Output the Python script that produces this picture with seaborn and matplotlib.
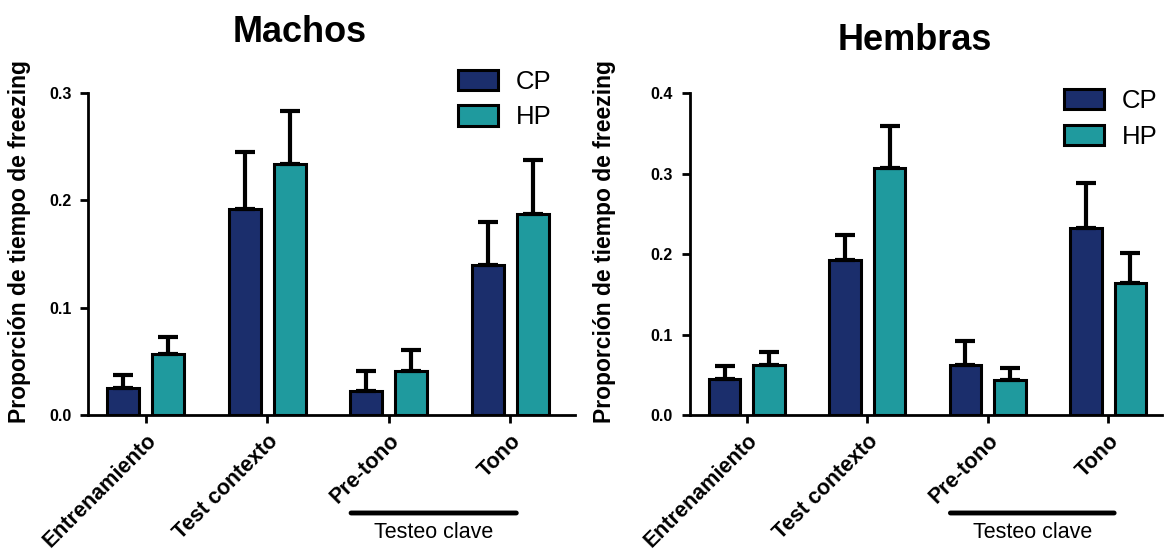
import matplotlib
matplotlib.use("Agg")
import matplotlib.pyplot as plt
import seaborn as sns
import pandas as pd
import numpy as np

# ---- data ----
categories = ["Entrenamiento", "Test contexto", "Pre-tono", "Tono"]
groups = ["CP", "HP"]
machos_cp = [0.025, 0.192, 0.022, 0.140]
machos_cp_err = [0.012, 0.053, 0.019, 0.040]
machos_hp = [0.057, 0.234, 0.041, 0.187]
machos_hp_err = [0.016, 0.049, 0.020, 0.051]
hembras_cp = [0.045, 0.193, 0.062, 0.232]
hembras_cp_err = [0.016, 0.031, 0.030, 0.056]
hembras_hp = [0.062, 0.307, 0.043, 0.164]
hembras_hp_err = [0.017, 0.052, 0.016, 0.038]
titles = ["Machos", "Hembras"]
ylabel = "Proporción de tiempo de freezing"
bracket_label = "Testeo clave"

colors = {"CP": "#1b2e6c", "HP": "#1f9a9e"}

sns.set_style("ticks")
plt.rcParams["font.family"] = ["Liberation Sans", "DejaVu Sans"]
for k in ["text.color", "axes.labelcolor", "xtick.color", "ytick.color",
          "axes.edgecolor"]:
    plt.rcParams[k] = "black"

fig = plt.figure(figsize=(11.67, 5.52), dpi=100)
ax1 = fig.add_axes([0.0754, 0.248, 0.417, 0.5833])
ax2 = fig.add_axes([0.591, 0.248, 0.405, 0.5833])


def make_df(cp, hp):
    return pd.DataFrame({
        "cat": categories * 2,
        "grp": ["CP"] * 4 + ["HP"] * 4,
        "val": list(cp) + list(hp),
    })


def draw(ax, cp, cperr, hp, hperr, ymax, yticks, title, title_x, title_y,
         leg_anchor, xmax, ylab_x):
    df = make_df(cp, hp)
    sns.barplot(data=df, x="cat", y="val", hue="grp", order=categories,
                hue_order=groups, palette=colors, width=0.74, gap=0.29,
                edgecolor="black", linewidth=2.2, errorbar=None, ax=ax,
                saturation=1)
    errs = {"CP": cperr, "HP": hperr}
    vals = {"CP": cp, "HP": hp}
    for cont, g in zip(ax.containers, groups):
        xs = [p.get_x() + p.get_width() / 2 for p in cont.patches]
        ax.errorbar(xs, vals[g], yerr=[np.zeros(4), errs[g]], fmt="none",
                    ecolor="black", elinewidth=3, capsize=7, capthick=3,
                    zorder=1)
    ax.set_ylim(0, ymax)
    ax.set_yticks(yticks)
    ax.set_yticklabels([f"{t:.1f}" for t in yticks], fontsize=11.5,
                       fontweight="bold")
    ax.set_xlim(-0.475, xmax)
    ax.set_xlabel("")
    ax.set_ylabel(ylabel, fontsize=16.5, fontweight="bold")
    ax.yaxis.set_label_coords(ylab_x, 0.54)
    ax.set_xticks(range(len(categories)))
    ax.set_xticklabels(categories, rotation=45, ha="right",
                       rotation_mode="anchor", fontsize=15.5,
                       fontweight="bold")
    for s in ["top", "right"]:
        ax.spines[s].set_visible(False)
    for s in ["left", "bottom"]:
        ax.spines[s].set_linewidth(2)
    ax.tick_params(axis="both", width=2, length=6, direction="out", pad=6)
    ax.tick_params(axis="x", pad=5)
    ax.legend(loc="upper left", bbox_to_anchor=leg_anchor, frameon=False,
              fontsize=18.5, handlelength=1.55, handleheight=0.85,
              labelspacing=0.45, handletextpad=0.7, borderaxespad=0)
    fig.text(title_x, title_y, title, fontsize=26, fontweight="bold",
             ha="center", va="center")
    # bracket line and label
    ax.annotate("", xy=(1.69, -0.304), xytext=(3.05, -0.304),
                xycoords=("data", "axes fraction"),
                textcoords=("data", "axes fraction"),
                arrowprops=dict(arrowstyle="-", lw=3.5, color="black",
                                shrinkA=0, shrinkB=0))
    ax.text(2.37, -0.366, bracket_label, fontsize=15.5,
            transform=ax.get_xaxis_transform(), ha="center", va="center")


draw(ax1, machos_cp, machos_cp_err, machos_hp, machos_hp_err, 0.3,
     [0.0, 0.1, 0.2, 0.3], titles[0], 300 / 1167, 1 - 33 / 552,
     (0.74, 1.105), 3.53, -0.118)
draw(ax2, hembras_cp, hembras_cp_err, hembras_hp, hembras_hp_err, 0.4,
     [0.0, 0.1, 0.2, 0.3, 0.4], titles[1], 915 / 1167, 1 - 40 / 552,
     (0.77, 1.045), 3.45, -0.155)

fig.savefig("out.png", dpi=100)
